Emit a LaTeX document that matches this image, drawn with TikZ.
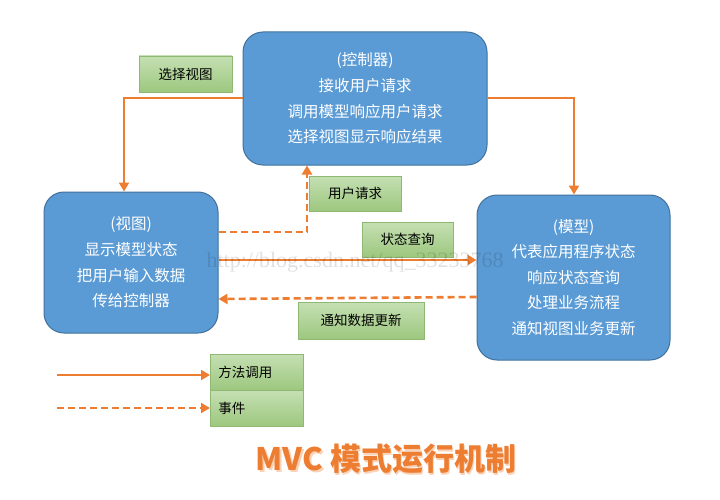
\documentclass[tikz,border=0pt]{standalone}
\usepackage{fontspec}
\newfontfamily\cjk{Noto Sans CJK SC}
\setmainfont{Liberation Serif}
\usetikzlibrary{arrows.meta,calc}
\definecolor{org}{HTML}{ED7D31}
\definecolor{bfill}{HTML}{5B9BD5}
\definecolor{bdraw}{HTML}{41719C}
\definecolor{gtop}{HTML}{C5E0B4}
\definecolor{gbot}{HTML}{9DC77E}
\definecolor{gdraw}{HTML}{8FB872}
\tikzset{
  bluebox/.style={draw=bdraw, line width=1pt, fill=bfill, rounded corners=20pt, text=white,
    font=\cjk\fontsize{15.5pt}{25.6pt}\selectfont, align=center, inner sep=0pt},
  greenbox/.style={draw=gdraw, line width=0.8pt, top color=gtop, bottom color=gbot,
    font=\cjk\fontsize{13.5pt}{15pt}\selectfont, text=black, inner sep=0pt},
  solidarrow/.style={draw=org, line width=2.6pt, -{Triangle[length=9pt,width=10pt]}},
  dasharrow/.style={draw=org, line width=2.6pt, dash pattern=on 7pt off 4pt, -{Triangle[length=9pt,width=10pt]}}
}
\begin{document}
\begin{tikzpicture}[x=1pt,y=-1pt]
\useasboundingbox (0,0) rectangle (720,500);
\fill[white] (0,0) rectangle (720,500);
% boxes
\node[bluebox, minimum width=244pt, minimum height=133pt] (ctrl) at (365,98.5)
  {(控制器)\\接收用户请求\\调用模型响应用户请求\\选择视图显示响应结果};
\node[bluebox, minimum width=174pt, minimum height=141pt] (view) at (131,262.5)
  {(视图)\\显示模型状态\\把用户输入数据\\传给控制器};
\node[bluebox, minimum width=193pt, minimum height=165pt] (model) at (573.5,277.5)
  {(模型)\\代表应用程序状态\\响应状态查询\\处理业务流程\\通知视图业务更新};
% labels
\node[greenbox, minimum width=93pt, minimum height=36pt] (l1) at (185.5,74) {选择视图};
\node[greenbox, minimum width=92pt, minimum height=35pt] (l2) at (355,193.5) {用户请求};
\node[greenbox, minimum width=91pt, minimum height=35pt] (l3) at (407.5,239.5) {状态查询};
\node[greenbox, minimum width=126pt, minimum height=37pt] (l4) at (361,320.5) {通知数据更新};
\node[greenbox, minimum width=93pt, minimum height=36pt, anchor=west, text width=77pt, align=left] (lg1) at (210,372) {方法调用};
\node[greenbox, minimum width=93pt, minimum height=36pt, anchor=west, text width=77pt, align=left] (lg2) at (210,408) {事件};
% connectors
\coordinate (c1) at (124,98);
\draw[solidarrow] (ctrl.west |- 0,98) -- (c1) -- (view.north -| c1);
\coordinate (c2) at (574,98);
\draw[solidarrow] (ctrl.east |- 0,98) -- (c2) -- (model.north -| c2);
\coordinate (c3) at (307,232);
\draw[dasharrow] (view.east |- 0,232) -- (c3) -- (ctrl.south -| c3);
\draw[solidarrow] (view.east |- 0,260) -- (model.west |- 0,260);
\draw[dasharrow] (model.west |- 0,297) -- (view.east |- 0,299);
% legend arrows
\coordinate (s1) at (57,375);
\coordinate (s2) at (57,408);
\draw[solidarrow] (s1) -- (lg1.west |- s1);
\draw[dasharrow] (s2) -- (lg2.west |- s2);
% title
\node[font=\cjk\bfseries\fontsize{31pt}{31pt}\selectfont, text=org!35!white] (tsh) at (387.5,460.5) {\textbf{MVC} 模式运行机制};
\node[font=\cjk\bfseries\fontsize{31pt}{31pt}\selectfont, text=org] (title) at (386,459) {\textbf{MVC} 模式运行机制};
% watermark
\node[text=black, opacity=0.12, font=\fontsize{22pt}{22pt}\selectfont, anchor=west] (wm) at (203,262) {http://blog.csdn.net/qq\_33233768};
\end{tikzpicture}
\end{document}
